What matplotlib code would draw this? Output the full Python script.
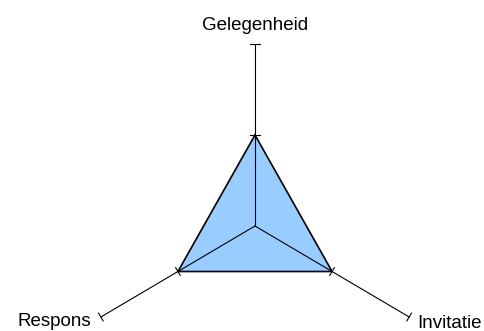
import numpy as np
import matplotlib
matplotlib.use("Agg")
import matplotlib.pyplot as plt

categories = ["Gelegenheid", "Invitatie", "Respons"]
values = [0.5, 0.5, 0.5]
tick_levels = [0.5, 1.0]
max_value = 1.0

plt.rcParams['font.family'] = ['Liberation Sans', 'DejaVu Sans']

W, H = 484, 331
fig = plt.figure(figsize=(W / 100, H / 100), dpi=100)
ax = fig.add_axes([0, 0, 1, 1])
cx, cy = 255, 226
ax.set_xlim(-cx, W - cx)
ax.set_ylim(-(H - cy), cy)
ax.axis('off')

Rx, Ry = 178, 182
angles = np.deg2rad([90, -30, 210])

def pt(r, a):
    return Rx * r * np.cos(a), Ry * r * np.sin(a)

# axis lines
for a in angles:
    ex, ey = pt(1.0, a)
    ax.plot([0, ex], [0, ey], color='black', lw=0.8, zorder=3)

# filled polygon
pts = [pt(v / max_value, a) for v, a in zip(values, angles)]
px = [p[0] for p in pts]
py = [p[1] for p in pts]
ax.fill(px, py, facecolor='#99CCFF', edgecolor='none', zorder=1)
ax.plot(px + [px[0]], py + [py[0]], color='black', lw=1.2, zorder=4)

# tick marks
tl = 4.5
for a in angles:
    ex, ey = pt(1.0, a)
    L = np.hypot(ex, ey)
    ux, uy = ex / L, ey / L
    nx, ny = -uy, ux
    for t in tick_levels:
        x0, y0 = pt(t / max_value, a)
        ax.plot([x0 - tl * nx, x0 + tl * nx], [y0 - tl * ny, y0 + tl * ny],
                color='black', lw=0.8, zorder=4)

# labels
fs = 13.5
ends = [pt(1.0, a) for a in angles]
ax.text(ends[0][0], ends[0][1] + 14, categories[0], ha='center', va='baseline', fontsize=fs)
ax.text(ends[1][0] + 8, ends[1][1] - 11, categories[1], ha='left', va='baseline', fontsize=fs)
ax.text(ends[2][0] - 10, ends[2][1] - 9, categories[2], ha='right', va='baseline', fontsize=fs)

fig.savefig("out.png", dpi=100)
